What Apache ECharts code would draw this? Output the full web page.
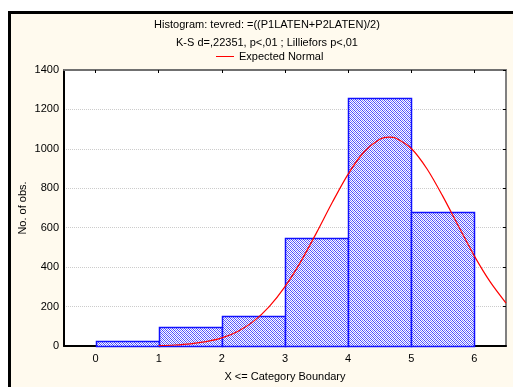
<!DOCTYPE html>
<html>
<head>
<meta charset="utf-8">
<style>
  html, body { margin: 0; padding: 0; background: #ffffff; }
  #chart { width: 513px; height: 387px; }
</style>
<script src="https://cdn.jsdelivr.net/npm/echarts@6/dist/echarts.min.js"></script>
</head>
<body>
<div id="chart"></div>
<script>
// histogram bins: [lower boundary, upper boundary]
const binLower = [0, 1, 2, 3, 4, 5];
const binUpper = [1, 2, 3, 4, 5, 6];
const binCounts = [25, 95, 153, 548, 1257, 680];
// expected normal curve
const curveX = [1, 1.25, 1.5, 1.75, 2, 2.25, 2.5, 2.75, 3, 3.25, 3.5, 3.75, 4, 4.25, 4.5, 4.65, 4.75, 5, 5.25, 5.5, 5.75, 6, 6.25, 6.5];
const curveY = [2, 5, 11, 22, 41, 74, 125, 200, 301, 428, 575, 729, 872, 984, 1049, 1060, 1055, 1002, 898, 759, 606, 456, 325, 218];
const xTicks = [0, 1, 2, 3, 4, 5, 6];

const FONT = "'Liberation Sans', Arial, sans-serif";

// hatch pattern for the bars (checker with diagonal)
function makeHatch() {
  const c = document.createElement("canvas");
  c.width = 4;
  c.height = 4;
  const ctx = c.getContext("2d");
  ctx.fillStyle = "#ffffff";
  ctx.fillRect(0, 0, 4, 4);
  for (let y = 0; y < 4; y++) {
    for (let x = 0; x < 4; x++) {
      const k = (x - y + 4) % 4;
      if (k === 0) { ctx.fillStyle = "#4848ff"; ctx.fillRect(x, y, 1, 1); }
      else if (k === 2) { ctx.fillStyle = "#8080ff"; ctx.fillRect(x, y, 1, 1); }
    }
  }
  return c;
}
const hatch = makeHatch();

const chart = echarts.init(document.getElementById("chart"), null, { renderer: "canvas" });

const option = {
  backgroundColor: "#ffffff",
  animation: false,
  textStyle: { fontFamily: FONT },
  graphic: [
    {
      type: "rect",
      z: -100,
      silent: true,
      shape: { x: 9.5, y: 12.5, width: 530, height: 400 },
      style: { fill: "#fffaee", stroke: "#000000", lineWidth: 3 }
    }
  ],
  title: {
    text: "Histogram: tevred: =((P1LATEN+P2LATEN)/2)\nK-S d=,22351, p<,01 ; Lilliefors p<,01",
    left: 262,
    textAlign: "center",
    top: 11,
    textStyle: { fontSize: 11, fontWeight: "normal", color: "#000000", fontFamily: FONT, lineHeight: 18 }
  },
  legend: {
    data: ["Expected Normal"],
    left: 211,
    top: 46,
    icon: "rect",
    itemWidth: 18,
    itemHeight: 1,
    itemGap: 4,
    textStyle: { fontSize: 11, color: "#000000", fontFamily: FONT, padding: [0, 0, 0, 0] }
  },
  grid: {
    left: 64,
    right: 7,
    top: 70,
    bottom: 37,
    show: true,
    backgroundColor: "#ffffff",
    borderWidth: 0
  },
  xAxis: [
    {
      type: "value",
      min: -0.5,
      max: 6.5,
      position: "bottom",
      name: "X <= Category Boundary",
      nameLocation: "middle",
      nameGap: 25,
      nameMoveOverlap: false,
      nameTextStyle: { fontSize: 11, color: "#000000", fontFamily: FONT },
      axisLine: { show: true, onZero: false, lineStyle: { color: "#000000", width: 2 } },
      axisTick: { show: false },
      axisLabel: { customValues: xTicks, fontSize: 11, color: "#000000", margin: 7 },
      splitLine: { show: false }
    },
    {
      type: "value",
      min: -0.5,
      max: 6.5,
      position: "top",
      axisLine: { show: true, onZero: false, lineStyle: { color: "#707070", width: 2 } },
      axisTick: { show: true, inside: true, length: 3, customValues: xTicks, lineStyle: { color: "#000000" } },
      axisLabel: { show: false },
      splitLine: { show: false }
    }
  ],
  yAxis: [
    {
      type: "value",
      min: 0,
      max: 1400,
      interval: 200,
      name: "No. of obs.",
      nameLocation: "middle",
      nameGap: 36,
      nameMoveOverlap: false,
      nameRotate: 90,
      nameTextStyle: { fontSize: 11, color: "#000000", fontFamily: FONT },
      axisLine: { show: true, onZero: false, lineStyle: { color: "#000000", width: 2 } },
      axisTick: { show: false },
      axisLabel: { fontSize: 11, color: "#000000", margin: 5, formatter: (v) => String(v) },
      splitLine: { show: true, lineStyle: { color: "#cccccc", type: [1, 1], width: 1 } }
    },
    {
      type: "value",
      min: 0,
      max: 1400,
      interval: 200,
      position: "right",
      axisLine: { show: true, onZero: false, lineStyle: { color: "#808080", width: 2 } },
      axisTick: { show: true, inside: true, length: 3, lineStyle: { color: "#000000" } },
      axisLabel: { show: false },
      splitLine: { show: false }
    }
  ],
  series: [
    {
      name: "bins",
      type: "custom",
      xAxisIndex: 0,
      yAxisIndex: 0,
      data: binCounts.map((v, i) => [binLower[i], binUpper[i], v]),
      renderItem: function (params, api) {
        const p0 = api.coord([api.value(0), 0]);
        const p1 = api.coord([api.value(1), api.value(2)]);
        return {
          type: "rect",
          shape: {
            x: Math.round(p0[0]) + 0.5,
            y: Math.round(p1[1]) + 0.5,
            width: Math.round(p1[0]) - Math.round(p0[0]),
            height: Math.round(p0[1]) - Math.round(p1[1])
          },
          style: { fill: { image: hatch, repeat: "repeat" }, stroke: "#1010ff", lineWidth: 1.5 }
        };
      },
      z: 2
    },
    {
      name: "Expected Normal",
      type: "line",
      xAxisIndex: 0,
      yAxisIndex: 0,
      data: curveX.map((x, i) => [x, curveY[i]]),
      smooth: 0.3,
      showSymbol: false,
      symbol: "none",
      lineStyle: { color: "#ff0000", width: 1.2 },
      itemStyle: { color: "#ff0000" },
      z: 3
    }
  ]
};

chart.setOption(option);
</script>
</body>
</html>
